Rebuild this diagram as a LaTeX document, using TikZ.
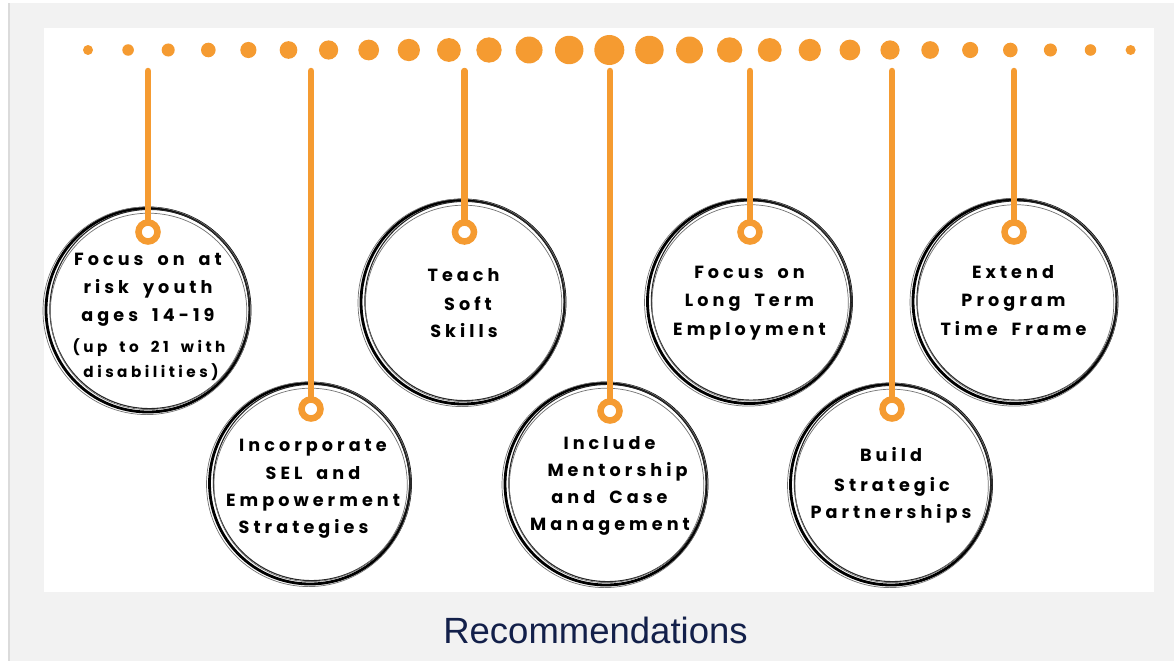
\documentclass[tikz,border=0pt]{standalone}
\usepackage{fontspec}
\setmainfont{Liberation Sans}
\newfontfamily\circfont{Poppins}[LetterSpace=23,WordSpace=1.8]
\definecolor{orng}{HTML}{F59B31}
\definecolor{navy}{HTML}{13204A}
\definecolor{bggray}{HTML}{F2F2F2}
\tikzset{
  dot/.style={circle, fill=orng, inner sep=0pt, draw=none},
  bigc/.style={circle, draw=black, line width=2.8pt, inner sep=0pt},
  sketchA/.style={draw=black!85, line width=1.1pt},
  sketchB/.style={draw=black!55, line width=0.7pt},
  ring/.style={circle, draw=orng, fill=white, line width=6.5pt, minimum size=19pt, inner sep=0pt},
  stem/.style={draw=orng, line width=6.5pt, line cap=round},
  lbl/.style={font=\circfont\bfseries\fontsize{17.6}{20}\selectfont, anchor=base, inner sep=0pt},
  lblsmall/.style={font=\circfont\bfseries\fontsize{15.2}{18}\selectfont, anchor=base, inner sep=0pt},
  title/.style={font=\fontsize{36.5}{40}\selectfont, text=navy, anchor=base, inner sep=0pt}
}
\begin{document}
\begin{tikzpicture}[x=1pt,y=-1pt]
\useasboundingbox (0,0) rectangle (1174,661);
\fill[white] (0,0) rectangle (1174,661);
\fill[black!14] (8,3) rectangle (10.5,661);
\fill[bggray] (10,3) rectangle (1174,661);
\fill[white] (44,28) rectangle (1154,592);

% dots
\foreach \i in {0,...,26} {
  \pgfmathsetmacro\dd{2*(15-abs(\i-13)*0.77)}
  \node[dot, minimum size=\dd pt] (d\i) at ({88+\i*40.1},50) {};
}

% big circles
\foreach \n/\x/\y/\r in {1/148/310/102, 2/310/483.5/100.5, 3/463/302/102, 4/606/484/101, 5/749.5/301.5/102, 6/891/484.5/100.5, 7/1015/301.5/102} {
  \node[bigc, minimum size=2*\r pt] (c\n) at (\x,\y) {};
  \draw[sketchA] (\x+1.5,\y-1) circle [radius=\r pt - 2.4pt];
  \draw[sketchB] (\x-1.2,\y+0.8) circle [radius=\r pt + 1.8pt];
  \draw[sketchB] (\x+0.6,\y+1.4) circle [radius=\r pt - 3.8pt];
}

% stems and rings
\foreach \n/\x/\y in {1/148/232, 2/311/409, 3/464.5/232, 4/610/411, 5/750/232, 6/892/409, 7/1014/232} {
  \node[ring] (r\n) at (\x,\y) {};
  \coordinate (s\n) at (\x,71);
  \draw[stem] (s\n) -- (r\n.north);
}

% texts
\node[lbl] (t1a) at (148,265) {Focus on at};
\node[lbl] (t1b) at (148,293) {risk youth};
\node[lbl] (t1c) at (148,321.5) {ages 14-19};
\node[lblsmall] (t1d) at (149,352.5) {(up to 21 with};
\node[lblsmall] (t1e) at (151,377) {disabilities)};

\node[lbl] (t2a) at (313,451.7) {Incorporate};
\node[lbl] (t2b) at (313,479.3) {SEL and};
\node[lbl] (t2c) at (313,506.7) {Empowerment};
\node[lbl] (t2d) at (303.5,533.3) {Strategies};

\node[lbl] (t3a) at (463.5,281.7) {Teach};
\node[lbl] (t3b) at (468,310) {Soft};
\node[lbl] (t3c) at (464,337.7) {Skills};

\node[lbl] (t4a) at (609.5,449.3) {Include};
\node[lbl] (t4b) at (617.5,476.7) {Mentorship};
\node[lbl] (t4c) at (609.5,503.3) {and Case};
\node[lbl] (t4d) at (610,530) {Management};

\node[lbl] (t5a) at (749.5,278.3) {Focus on};
\node[lbl] (t5b) at (749.5,306.7) {Long Term};
\node[lbl] (t5c) at (749.5,335) {Employment};

\node[lbl] (t6a) at (891,461.7) {Build};
\node[lbl] (t6b) at (892,491) {Strategic};
\node[lbl] (t6c) at (891,518.3) {Partnerships};

\node[lbl] (t7a) at (1013,278.3) {Extend};
\node[lbl] (t7b) at (1013.5,306.7) {Program};
\node[lbl] (t7c) at (1013.5,335) {Time Frame};

\node[title] (ttl) at (595.5,643) {Recommendations};
\end{tikzpicture}
\end{document}
